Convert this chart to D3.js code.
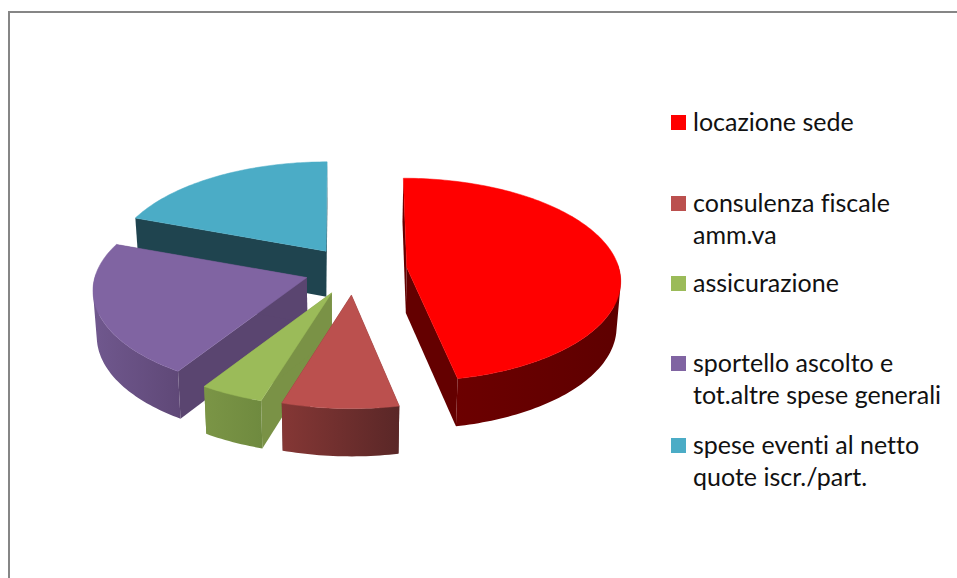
<!DOCTYPE html>
<html><head><meta charset="utf-8">
<script src="https://cdn.jsdelivr.net/npm/d3@7/dist/d3.min.js"></script>
<style>html,body{margin:0;padding:0;background:#fff;overflow:hidden}svg{display:block}text{font-variant-ligatures:none}</style>
</head><body><svg id="c" width="957" height="578"></svg>
<script>
const categories = ["locazione sede","consulenza fiscale amm.va","assicurazione","sportello ascolto e tot.altre spese generali","spese eventi al netto quote iscr./part."];
const values = [46.83, 7.89, 4.33, 21.55, 19.4];
const explosions = [0.25, 0.25, 0.25, 0.235, 0.23];
const legendLines = [["locazione sede"],["consulenza fiscale","amm.va"],["assicurazione"],["sportello ascolto e","tot.altre spese generali"],["spese eventi al netto","quote iscr./part."]];
const topColors = ["#ff0000","#bb504e","#9bbb59","#8064a2","#4bacc6"];
const rimLeft = ["#6c0000","#853735","#7b9546","#70588e","#2a5f6d"];
const rimRight = ["#5e0000","#5a2727","#6f8a3f","#5f4877","#1f444f"];
const cutColors = ["#640000","#5a2727","#7a9246","#5a4570","#1f444f"];

const W=957,H=578, cx=354, cy=270, R=212, Ry=100, k=0.12, depth=45.5, vx=345;
const svg=d3.select("#c");
const defs=svg.append("defs");
svg.append("rect").attr("x",9).attr("y",12).attr("width",W+20).attr("height",H+20).attr("fill","#fff").attr("stroke","#868686").attr("stroke-width",2);

const pie=d3.pie().sort(null).value(d=>d);
const arcs=pie(values);
const lineGen=d3.line();

function project(apex,theta,r,h){
  const u=Math.sin(theta)*r, v=Math.cos(theta)*r;
  const s=1/(1+k*v);
  let x=apex[0]+R*u*s+(vx-apex[0])*0.055*v;
  let y=apex[1]-Ry*v*s;
  if(h){
    y+=depth*(1-0.05*v);
    x+=(vx-x)*0.015;
  }
  return [x,y];
}
function slice(d,i){
  const mid=(d.startAngle+d.endAngle)/2;
  const e=explosions[i];
  const apex=[cx+Math.sin(mid)*e*R, cy-Math.cos(mid)*e*100];
  const n=Math.max(8,Math.ceil((d.endAngle-d.startAngle)/0.02));
  const thetas=d3.range(n+1).map(j=>d.startAngle+(d.endAngle-d.startAngle)*j/n);
  return {i,d,apex,thetas};
}
const slices=arcs.map(slice);
// painter's order: far slices first
const order=[4,0,3,2,1];
order.forEach(idx=>{
  const s=slices[idx], a=s.apex, t=s.thetas, g=svg.append("g");
  const a0=project(a,0,0,false), a1=project(a,0,0,true);
  const wall=th=>[a0,project(a,th,1,false),project(a,th,1,true),a1];
  g.append("path").attr("d",lineGen(wall(s.d.startAngle))+"Z").attr("fill",cutColors[idx]);
  g.append("path").attr("d",lineGen(wall(s.d.endAngle))+"Z").attr("fill",cutColors[idx]);
  // outer wall: only the part that faces the viewer, swept as one compound path
  const front=t.filter(th=>Math.cos(th)<0.05);
  if(front.length>1){
    const pts=front.map(th=>project(a,th,1,false)).concat(front.map(th=>project(a,th,1,true)));
    const ext=d3.extent(pts,p=>p[0]);
    const id="rim"+idx;
    const gr=defs.append("linearGradient").attr("id",id).attr("gradientUnits","userSpaceOnUse")
      .attr("x1",ext[0]).attr("x2",ext[1]).attr("y1",0).attr("y2",0);
    gr.append("stop").attr("offset",0).attr("stop-color",rimLeft[idx]);
    gr.append("stop").attr("offset",1).attr("stop-color",rimRight[idx]);
    const dPath=d3.pairs(front).map(([p,q])=>{
      const quad=[project(a,p,1,false),project(a,q,1,false),project(a,q,1,true),project(a,p,1,true)];
      // keep every quad in the same winding so overlaps never cancel
      if(d3.polygonArea(quad)<0) quad.reverse();
      return lineGen(quad)+"Z";
    }).join("");
    g.append("path").attr("d",dPath).attr("fill",`url(#${id})`).attr("fill-rule","nonzero");
  }
  const top=[a0].concat(t.map(th=>project(a,th,1,false)));
  g.append("path").attr("d",lineGen(top)+"Z").attr("fill",topColors[idx]).attr("stroke",topColors[idx]).attr("stroke-width",0.5);
});

// legend
const legendTop=[115,196,276,356,438];
const leg=svg.append("g").attr("font-family","Lato, Carlito, sans-serif").attr("font-size",25).attr("fill","#111");
legendLines.forEach((lines,i)=>{
  leg.append("rect").attr("x",671).attr("y",legendTop[i]).attr("width",15).attr("height",15).attr("fill",topColors[i]);
  lines.forEach((t,j)=>{
    leg.append("text").attr("x",693).attr("y",legendTop[i]+16+j*32).text(t);
  });
});
</script></body></html>
